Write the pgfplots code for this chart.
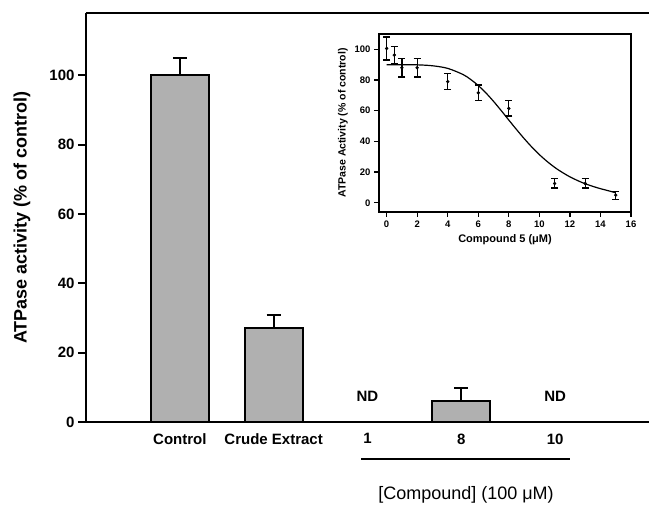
\documentclass[border=0pt]{standalone}
\usepackage{fontspec}
\setmainfont{Liberation Sans}
\usepackage{pgfplots}
\pgfplotsset{compat=1.18}
\definecolor{barfill}{RGB}{176,176,176}
\newcommand{\fs}[1]{\fontsize{#1}{#1}\selectfont}

\begin{document}
\begin{tikzpicture}
\useasboundingbox (-86pt,-84pt) rectangle (563pt,422pt);
% main bar chart
\begin{axis}[
  name=main, at={(0,0)}, anchor=south west,
  scale only axis, width=563pt, height=409pt,
  xmin=-1, xmax=5, ymin=0, ymax=118,
  axis x line=box, axis y line=left,
  axis line style={-, line width=2pt},
  ybar, bar width=0.62,
  xtick={0,1,2,3,4},
  xticklabels={Control, Crude Extract, 1, 8, 10},
  xtick style={draw=none},
  ytick={0,20,40,60,80,100},
  ytick style={line width=2pt, black},
  major tick length=8pt, tick align=outside,
  ticklabel style={font=\bfseries\fs{15}},
  /pgf/number format/assume math mode=true,
  ylabel={ATPase activity (\% of control)},
  every axis y label/.style={at={(axis description cs:0,0.5)}, xshift=-64pt,
    rotate=90, anchor=center, font=\bfseries\fs{18}},
  clip=false,
]
\addplot[fill=barfill, draw=black, line width=2pt,
  error bars/.cd, y dir=plus, y explicit,
  error bar style={line width=2pt},
  error mark options={rotate=90, mark size=7pt, line width=2pt}]
  coordinates {(0,100) +- (0,5) (1,27) +- (0,4) (3,6.2) +- (0,3.6)};
\node[font=\bfseries\fs{15}] at (axis cs:2,7.5) {ND};
\node[font=\bfseries\fs{15}] at (axis cs:4,7.5) {ND};
\end{axis}

% inset dose-response
\begin{axis}[
  at={(293pt,210pt)}, anchor=south west,
  scale only axis, width=252pt, height=178pt,
  xmin=-0.5, xmax=16, ymin=-6, ymax=110,
  xtick={0,2,...,16}, ytick={0,20,...,100},
  xtick pos=bottom, ytick pos=left,
  tick align=outside, major tick length=5pt,
  axis line style={line width=1.4pt},
  tick style={line width=1.2pt, black},
  ticklabel style={font=\bfseries\fs{9.5}},
  /pgf/number format/assume math mode=true,
  xlabel={Compound 5 (μM)},
  ylabel={ATPase Activity (\% of control)},
  xlabel style={font=\bfseries\fs{11}},
  ylabel style={font=\bfseries\fs{10.5}},
]
\addplot[black, line width=1.2pt, smooth] coordinates {
  (0,90) (1,90) (2,89.9) (3,89.3) (4,87.6) (5,83.6) (5.5,80.4) (6,76.4)
  (6.5,71.6) (7,66.1) (7.5,60.1) (8,53.9) (8.5,47.8) (9,41.9) (9.5,36.4)
  (10,31.4) (10.5,27.0) (11,23.1) (11.5,19.8) (12,16.9) (12.5,14.5)
  (13,12.4) (13.5,10.7) (14,9.2) (14.5,7.9) (15,6.5)};
\addplot[black, only marks, mark=*, mark size=1.5pt,
  error bars/.cd, y dir=both, y explicit,
  error bar style={line width=1.2pt},
  error mark options={rotate=90, mark size=3.5pt, line width=1.2pt}]
  coordinates {
  (0,100.6) +- (0,7.5) (0.5,96.3) +- (0,5.5) (1,88) +- (0,6)
  (2,88) +- (0,6) (4,79) +- (0,5) (6,71.7) +- (0,5) (8,61.5) +- (0,5)
  (11,12.6) +- (0,3) (13,12.6) +- (0,3) (15,5) +- (0,2.6)};
\end{axis}

\draw[line width=2pt] (275pt,-37pt) -- (484pt,-37pt);
\node[font=\fs{18}] at (380pt,-73pt) {[Compound] (100 μM)};
\end{tikzpicture}
\end{document}
